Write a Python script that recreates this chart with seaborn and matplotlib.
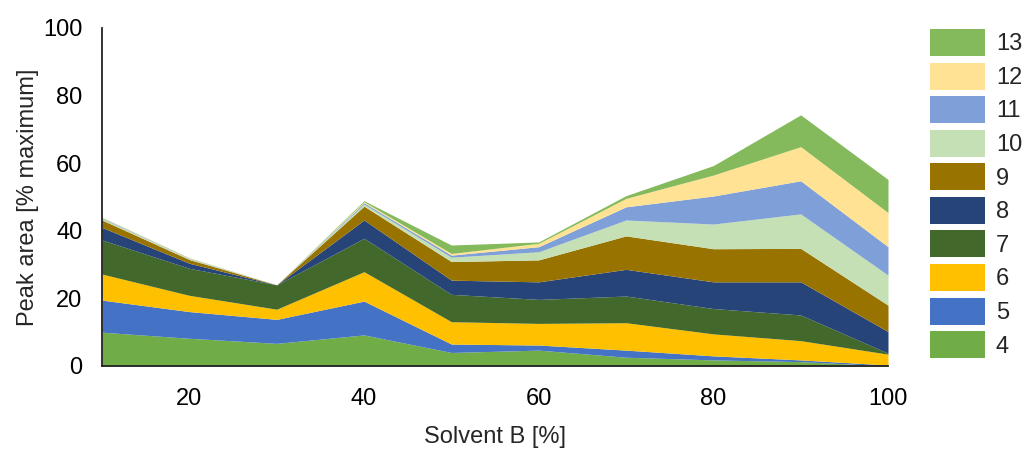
import numpy as np
import pandas as pd
import matplotlib
matplotlib.use("Agg")
import matplotlib.pyplot as plt
import seaborn as sns
from matplotlib.patches import Patch

solvent_b = [10, 20, 30, 40, 50, 60, 70, 80, 90, 100]
peak_labels = ["4", "5", "6", "7", "8", "9", "10", "11", "12", "13"]

p4 = [10.0, 8.2, 6.7, 9.2, 4.0, 4.7, 2.6, 1.8, 1.3, 0.0]
p5 = [9.5, 7.9, 7.1, 10.0, 2.5, 1.5, 2.1, 1.2, 0.5, 0.3]
p6 = [7.7, 4.8, 3.0, 8.7, 6.6, 6.4, 8.1, 6.5, 5.7, 3.2]
p7 = [10.1, 8.0, 7.2, 9.9, 8.1, 7.1, 7.9, 7.5, 7.6, 0.3]
p8 = [3.7, 1.5, 0.0, 5.4, 4.2, 5.2, 7.9, 7.9, 9.8, 6.4]
p9 = [2.2, 1.1, 0.0, 4.1, 5.5, 6.5, 9.9, 9.8, 9.9, 7.8]
p10 = [0.4, 0.2, 0.0, 0.6, 1.3, 2.4, 4.7, 7.3, 10.2, 8.9]
p11 = [0.2, 0.1, 0.0, 0.4, 0.6, 1.5, 3.9, 8.3, 9.8, 8.4]
p12 = [0.1, 0.1, 0.0, 0.3, 0.5, 1.0, 2.5, 6.2, 10.1, 10.1]
p13 = [0.1, 0.1, 0.0, 0.3, 2.5, 0.4, 0.8, 2.8, 9.4, 9.8]

series = [p4, p5, p6, p7, p8, p9, p10, p11, p12, p13]
colors = ["#70AD47", "#4472C4", "#FFC000", "#43682B", "#264478",
          "#997300", "#C5E0B4", "#7F9FD8", "#FFE293", "#84BA5B"]

sns.set_theme(style="white")
plt.rcParams['font.family'] = ['Liberation Sans', 'DejaVu Sans']

FS = 17

fig = plt.figure(figsize=(10.29, 4.51), dpi=100)
ax = fig.add_axes([102/1029, 1-366/451, (888-102)/1029, (366-28)/451])

ax.stackplot(solvent_b, *series, colors=colors, linewidth=0)

ax.set_xlim(10, 100)
ax.set_ylim(0, 100)
ax.set_xticks([20, 40, 60, 80, 100])
ax.set_xticks(np.arange(10, 101, 10), minor=True)
ax.set_yticks([0, 20, 40, 60, 80, 100])
ax.set_yticks(np.arange(0, 101, 10), minor=True)
ax.tick_params(axis='both', which='both', direction='out', colors='#555555',
               labelcolor='black', labelsize=FS)
ax.tick_params(axis='both', which='major', length=6, width=1.2)
ax.tick_params(axis='both', which='minor', length=3, width=1.2)
ax.tick_params(axis='x', which='major', pad=10)
ax.tick_params(axis='y', which='major', pad=8)

for s in ['top', 'right']:
    ax.spines[s].set_visible(False)
for s in ['left', 'bottom']:
    ax.spines[s].set_color('#222222')
    ax.spines[s].set_linewidth(1.3)

ax.set_xlabel("Solvent B [%]", fontsize=FS, labelpad=11)
ax.set_ylabel("Peak area [% maximum]", fontsize=FS, labelpad=3)

handles = [Patch(facecolor=c, edgecolor='none') for c in colors][::-1]
labels = peak_labels[::-1]
fig.legend(handles, labels, loc='upper left', bbox_to_anchor=(930/1029, 1-29/451),
           frameon=False, fontsize=FS, handlelength=2.34, handleheight=1.38,
           labelspacing=0.28, handletextpad=0.45, borderaxespad=0, borderpad=0)

fig.savefig("out.png", dpi=100)
